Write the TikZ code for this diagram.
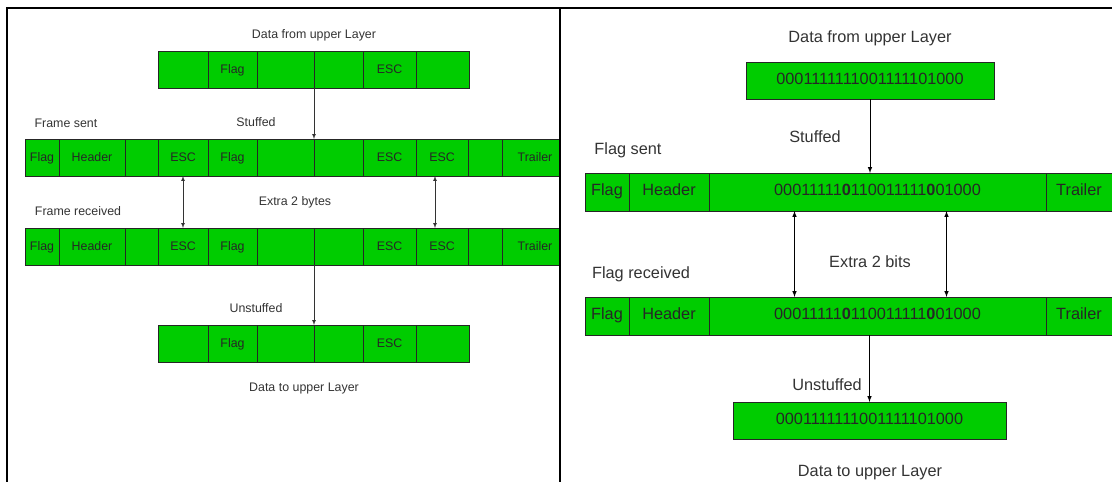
\documentclass[tikz,border=0pt]{standalone}
\usepackage{fontspec}
\setmainfont{Liberation Sans}
\usepackage{tikz}
\usetikzlibrary{positioning}

\definecolor{framegreen}{HTML}{00CC00}
\definecolor{labelgray}{HTML}{333333}

\begin{document}
\begin{tikzpicture}[
  x=1pt, y=-1pt,
  cell/.style={draw=black!85,fill=framegreen,line width=0.7pt,minimum height=37,inner sep=0pt,outer sep=0pt,
    text height=0.72em,text depth=0em,text=black!85,font=\fontsize{12.4}{14}\selectfont},
  bigcell/.style={draw=black!85,fill=framegreen,line width=0.9pt,minimum height=38,inner sep=0pt,outer sep=0pt,
    text height=0.72em,text depth=0em,text=black!85,font=\fontsize{16.3}{19}\selectfont},
  lbl/.style={text=labelgray,inner sep=0pt,font=\fontsize{12.4}{14}\selectfont},
  biglbl/.style={text=labelgray,inner sep=0pt,font=\fontsize{16.3}{19}\selectfont},
  arr/.style={-latex,draw=black!80,line width=0.7pt},
  darr/.style={latex-latex,draw=black!80,line width=0.7pt},
  bigarr/.style={-latex,draw=black,line width=1pt},
  bigdarr/.style={latex-latex,draw=black,line width=1pt}
]
\useasboundingbox (0,0) rectangle (1112,482);

% byte stuffing
\begin{scope}
\clip (0,0) rectangle (560,482);

\node[lbl] (dfrom) at (314,35) {Data from upper Layer};

\node[cell,minimum width=50,anchor=north west] (d1) at (158,51) {};
\node[cell,minimum width=49,right=0pt of d1] (d2) {Flag};
\node[cell,minimum width=57,right=0pt of d2] (d3) {};
\node[cell,minimum width=49,right=0pt of d3] (d4) {};
\node[cell,minimum width=53,right=0pt of d4] (d5) {ESC};
\node[cell,minimum width=53,right=0pt of d5] (d6) {};

\node[lbl] (fsent) at (66,123) {Frame sent};
\node[lbl] (stuffed) at (256,122) {Stuffed};

\node[cell,minimum width=34,anchor=north west] (s1) at (25,139) {Flag};
\node[cell,minimum width=66,right=0pt of s1] (s2) {Header};
\node[cell,minimum width=33,right=0pt of s2] (s3) {};
\node[cell,minimum width=50,right=0pt of s3] (s4) {ESC};
\node[cell,minimum width=49,right=0pt of s4] (s5) {Flag};
\node[cell,minimum width=57,right=0pt of s5] (s6) {};
\node[cell,minimum width=49,right=0pt of s6] (s7) {};
\node[cell,minimum width=53,right=0pt of s7] (s8) {ESC};
\node[cell,minimum width=52,right=0pt of s8] (s9) {ESC};
\node[cell,minimum width=34,right=0pt of s9] (s10) {};
\node[cell,minimum width=66,right=0pt of s10] (s11) {Trailer};

\node[lbl] (frecv) at (78,211) {Frame received};
\node[lbl] (extra) at (295,202) {Extra 2 bytes};

\node[cell,minimum width=34,anchor=north west] (r1) at (25,228) {Flag};
\node[cell,minimum width=66,right=0pt of r1] (r2) {Header};
\node[cell,minimum width=33,right=0pt of r2] (r3) {};
\node[cell,minimum width=50,right=0pt of r3] (r4) {ESC};
\node[cell,minimum width=49,right=0pt of r4] (r5) {Flag};
\node[cell,minimum width=57,right=0pt of r5] (r6) {};
\node[cell,minimum width=49,right=0pt of r6] (r7) {};
\node[cell,minimum width=53,right=0pt of r7] (r8) {ESC};
\node[cell,minimum width=52,right=0pt of r8] (r9) {ESC};
\node[cell,minimum width=34,right=0pt of r9] (r10) {};
\node[cell,minimum width=66,right=0pt of r10] (r11) {Trailer};

\node[lbl] (unstuffed) at (256,308) {Unstuffed};

\node[cell,minimum width=50,anchor=north west] (u1) at (158,325) {};
\node[cell,minimum width=49,right=0pt of u1] (u2) {Flag};
\node[cell,minimum width=57,right=0pt of u2] (u3) {};
\node[cell,minimum width=49,right=0pt of u3] (u4) {};
\node[cell,minimum width=53,right=0pt of u4] (u5) {ESC};
\node[cell,minimum width=53,right=0pt of u5] (u6) {};

\node[lbl] (dto) at (304,389) {Data to upper Layer};

\path (d3.south east) edge[arr] (s6.north east)
(s4.south) edge[darr] (r4.north)
([xshift=-7pt]s9.south) edge[darr] ([xshift=-7pt]r9.north)
(r6.south east) edge[arr] (u3.north east)
;
\end{scope}

% bit stuffing
\node[biglbl] (bfrom) at (870,38) {Data from upper Layer};
\node[bigcell,minimum width=248,minimum height=37,anchor=north west] (bd) at (746,62) {0001111111001111101000};

\node[biglbl] (bstuffed) at (815,137) {Stuffed};
\node[biglbl] (bsent) at (628,150) {Flag sent};

\node[bigcell,minimum width=44,anchor=north west] (bs1) at (585,173) {Flag};
\node[bigcell,minimum width=80,right=0pt of bs1] (bs2) {Header};
\node[bigcell,minimum width=337,right=0pt of bs2] (bs3) {00011111\textbf{0}110011111\textbf{0}01000};
\node[bigcell,minimum width=66,right=0pt of bs3] (bs4) {Trailer};

\node[biglbl] (bextra) at (870,262) {Extra 2 bits};
\node[biglbl] (brecv) at (641,274) {Flag received};

\node[bigcell,minimum width=44,anchor=north west] (br1) at (585,297) {Flag};
\node[bigcell,minimum width=80,right=0pt of br1] (br2) {Header};
\node[bigcell,minimum width=337,right=0pt of br2] (br3) {00011111\textbf{0}110011111\textbf{0}01000};
\node[bigcell,minimum width=66,right=0pt of br3] (br4) {Trailer};

\node[biglbl,anchor=east] (bunstuffed) at (862,385) {Unstuffed};
\node[bigcell,minimum width=273,minimum height=37,anchor=north west] (bu) at (733,402) {0001111111001111101000};
\node[biglbl] (bto) at (870,473) {Data to upper Layer};

\path (bd.south) edge[bigarr] (bd.south |- bs3.north)
([xshift=-83pt]bs3.south) edge[bigdarr] ([xshift=-83pt]br3.north)
([xshift=69pt]bs3.south) edge[bigdarr] ([xshift=69pt]br3.north)
(bu.north |- br3.south) edge[bigarr] (bu.north)
;

% frame lines
\draw[line width=2pt] (7,482) -- (7,7.5) -- (1112,7.5);
\draw[line width=1.3pt] (560,7.5) -- (560,482);

\end{tikzpicture}
\end{document}
